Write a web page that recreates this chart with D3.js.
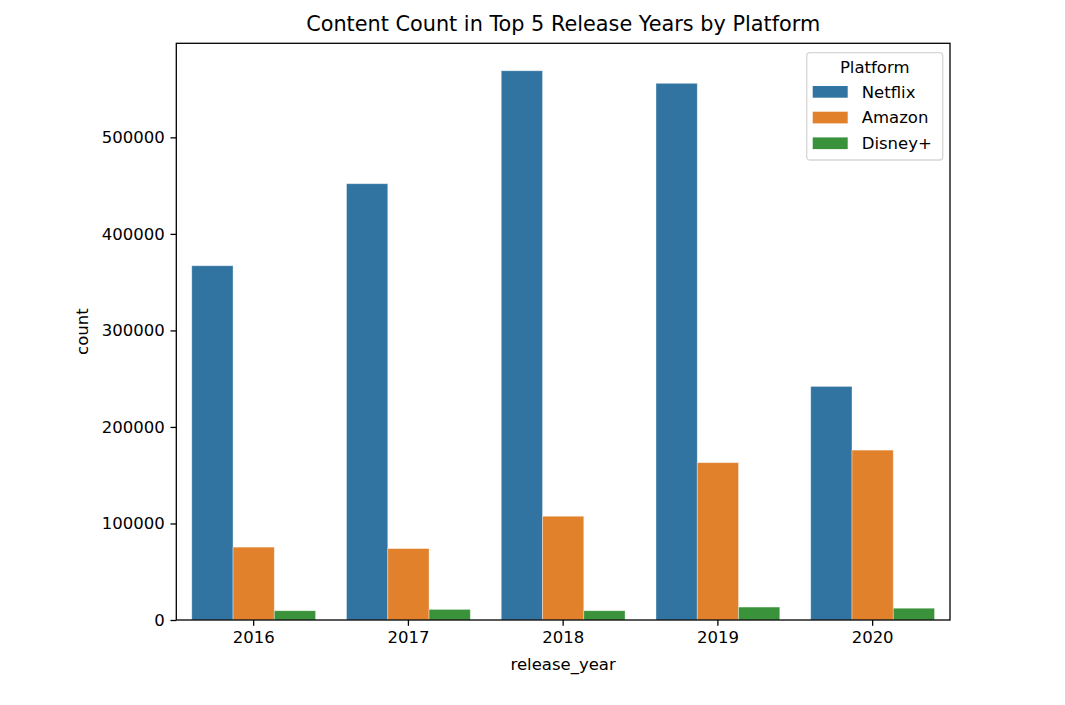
<!DOCTYPE html>
<html>
<head>
<meta charset="utf-8">
<script src="https://cdn.jsdelivr.net/npm/d3@7"></script>
<style>
  body { margin: 0; background: #fff; }
  text { font-family: "DejaVu Sans", sans-serif; fill: #000; }
</style>
</head>
<body>
<script>
// data
let years = ["2016", "2017", "2018", "2019", "2020"];
let platforms = ["Netflix", "Amazon", "Disney+"];
let netflix = [367000, 452000, 569000, 556000, 242000];
let amazon = [75500, 74000, 107500, 163000, 176000];
let disney = [9600, 11000, 9600, 13400, 12200];
let yTicks = [0, 100000, 200000, 300000, 400000, 500000];

let colors = ["#3274a1", "#e1812c", "#3a923a"];
let series = [netflix, amazon, disney];

let svg = d3.select("body").append("svg")
	.attr("width", 1065)
	.attr("height", 705);

// axes box in pixels
let plotLeft = 176.3, plotRight = 950, plotTop = 43.3, plotBottom = 620;

let x = d3.scaleBand()
	.domain(years)
	.range([plotLeft, plotRight])
	.padding(0);

let xSub = d3.scaleBand()
	.domain(platforms)
	.range([x.bandwidth() * 0.1, x.bandwidth() * 0.9])
	.padding(0);

let maxVal = d3.max(series.flat());
let y = d3.scaleLinear()
	.domain([0, maxVal * 1.05])
	.range([plotBottom, plotTop]);

let color = d3.scaleOrdinal().domain(platforms).range(colors);

// flatten into rows for drawing
let rows = [];
years.forEach((yr, i) => {
	platforms.forEach((p, j) => {
		rows.push({ year: yr, platform: p, value: series[j][i] });
	});
});

svg.append("g")
	.selectAll("rect")
	.data(rows)
	.enter().append("rect")
	.attr("x", d => x(d.year) + xSub(d.platform))
	.attr("y", d => y(d.value))
	.attr("width", xSub.bandwidth())
	.attr("height", d => plotBottom - y(d.value))
	.attr("fill", d => color(d.platform))
	.attr("stroke", "rgba(255,255,255,0.45)")
	.attr("stroke-width", 0.8);

// x axis
let xAxis = svg.append("g")
	.attr("transform", `translate(0, ${plotBottom})`)
	.call(d3.axisBottom(x).tickSize(5.8).tickPadding(5.8).tickSizeOuter(0));
xAxis.select(".domain").remove();
xAxis.selectAll("line").attr("stroke", "#000").attr("stroke-width", 1.3);
xAxis.selectAll("text").attr("font-size", 16.5).attr("font-family", "DejaVu Sans");

// y axis
let yAxis = svg.append("g")
	.attr("transform", `translate(${plotLeft}, 0)`)
	.call(d3.axisLeft(y).tickValues(yTicks).tickFormat(d3.format("d")).tickSize(5.8).tickPadding(5.8));
yAxis.select(".domain").remove();
yAxis.selectAll("line").attr("stroke", "#000").attr("stroke-width", 1.3);
yAxis.selectAll("text").attr("font-size", 16.5).attr("font-family", "DejaVu Sans");

// frame
svg.append("rect")
	.attr("x", plotLeft)
	.attr("y", plotTop)
	.attr("width", plotRight - plotLeft)
	.attr("height", plotBottom - plotTop)
	.attr("fill", "none")
	.attr("stroke", "#000")
	.attr("stroke-width", 1.3);

// title and labels
svg.append("text")
	.attr("x", (plotLeft + plotRight) / 2)
	.attr("y", 31)
	.attr("text-anchor", "middle")
	.attr("font-size", 20.8)
	.text("Content Count in Top 5 Release Years by Platform");

svg.append("text")
	.attr("x", (plotLeft + plotRight) / 2)
	.attr("y", 670)
	.attr("text-anchor", "middle")
	.attr("font-size", 16.5)
	.text("release_year");

svg.append("text")
	.attr("transform", `translate(88, ${(plotTop + plotBottom) / 2}) rotate(-90)`)
	.attr("text-anchor", "middle")
	.attr("font-size", 16.5)
	.text("count");

// legend
let lg = svg.append("g").attr("transform", "translate(806.7, 52.7)");
lg.append("rect")
	.attr("width", 136)
	.attr("height", 107.3)
	.attr("rx", 3)
	.attr("fill", "rgba(255,255,255,0.8)")
	.attr("stroke", "#d6d6d6")
	.attr("stroke-width", 1.3);
lg.append("text")
	.attr("x", 68)
	.attr("y", 20)
	.attr("text-anchor", "middle")
	.attr("font-size", 16.5)
	.text("Platform");

let item = lg.selectAll(".item")
	.data(platforms)
	.enter().append("g")
	.attr("class", "item")
	.attr("transform", (d, i) => `translate(6, ${33.3 + i * 25.7})`);
item.append("rect")
	.attr("width", 35)
	.attr("height", 11.7)
	.attr("fill", d => color(d));
item.append("text")
	.attr("x", 49)
	.attr("y", 11.5)
	.attr("font-size", 16.5)
	.text(d => d);
</script>
</body>
</html>
